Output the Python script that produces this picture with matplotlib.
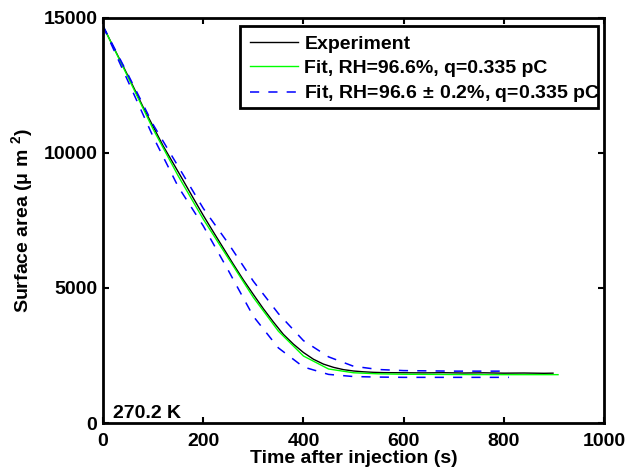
import matplotlib
matplotlib.use('Agg')
import matplotlib.pyplot as plt
from matplotlib.patches import Rectangle
import numpy as np

plt.rcParams['font.family'] = ['Liberation Sans', 'DejaVu Sans']
plt.rcParams['font.weight'] = 'bold'
plt.rcParams['mathtext.fontset'] = 'custom'
plt.rcParams['mathtext.rm'] = 'Liberation Sans:bold'
plt.rcParams['mathtext.bf'] = 'Liberation Sans:bold'
plt.rcParams['mathtext.it'] = 'Liberation Sans:bold'
plt.rcParams['mathtext.default'] = 'bf'

# experiment
t_exp = [0, 20, 40, 60, 80, 100, 120, 140, 160, 180, 200, 220, 240, 260, 280,
         300, 320, 340, 360, 380, 400, 420, 440, 460, 480, 500, 520, 540, 560,
         600, 640, 680, 720, 760, 800, 840, 880, 898]
a_exp = [14700, 13950, 13220, 12470, 11700, 10980, 10260, 9620, 8980, 8330,
         7690, 7080, 6480, 5880, 5300, 4760, 4230, 3740, 3280, 2920, 2610,
         2360, 2180, 2060, 1975, 1925, 1895, 1875, 1865, 1860, 1855, 1862,
         1850, 1858, 1845, 1850, 1840, 1845]

# best fit
t_fit = [0, 50, 100, 150, 200, 250, 300, 350, 400, 450, 500, 550, 600, 700, 800, 908]
a_fit = [14700, 12800, 10880, 9150, 7550, 6100, 4650, 3400, 2480, 2000, 1860,
         1820, 1805, 1795, 1790, 1790]

# fit with RH +/- 0.2 %
t_band = [0, 50, 100, 150, 200, 250, 300, 350, 400, 450, 500, 550, 600, 700, 810]
a_hi = [14700, 12900, 11050, 9500, 7950, 6650, 5250, 4050, 3050, 2450, 2100,
        1980, 1940, 1920, 1920]
a_lo = [14700, 12650, 10600, 8750, 7300, 5650, 3950, 2780, 2074, 1800, 1720,
        1700, 1690, 1690, 1690]

fs = 14

fig, ax = plt.subplots(figsize=(6.28, 4.70), dpi=100)
fig.subplots_adjust(left=0.164, right=0.962, bottom=0.1, top=0.962)

ax.plot(t_exp, a_exp, color='k', lw=1.0, label='Experiment')
ax.plot(t_fit, a_fit, color='#00ff00', lw=1.0, label='Fit, RH=96.6%, q=0.335 pC')
ax.plot(t_band, a_hi, color='#0000ff', lw=1.1, ls=(0, (6, 6)),
        label='Fit, RH=96.6$\\,\\pm\\,$0.2%, q=0.335 pC')
ax.plot(t_band, a_lo, color='#0000ff', lw=1.1, ls=(0, (6, 6)))

ax.set_xlim(0, 1000)
ax.set_ylim(0, 15000)
ax.set_xticks(np.arange(0, 1001, 200))
ax.set_yticks(np.arange(0, 15001, 5000))
ax.tick_params(direction='in', top=True, right=True, length=4, width=1.5,
               labelsize=fs)
ax.tick_params(axis='x', pad=7)
ax.tick_params(axis='y', pad=4)
for lab in ax.get_xticklabels() + ax.get_yticklabels():
    lab.set_fontweight('bold')
for s in ax.spines.values():
    s.set_linewidth(2)

ax.set_xlabel('Time after injection (s)', fontsize=fs, fontweight='bold', labelpad=0)
ax.set_ylabel('Surface area ($\\mu$ m $^{2}$)', fontsize=fs, fontweight='bold', labelpad=6)

ax.text(20, 200, '270.2 K', fontsize=fs, fontweight='bold')

# matlab style legend: text may run past the box
leg = ax.legend(loc='upper left', bbox_to_anchor=(0.293, 0.957), fontsize=fs,
                frameon=False, handlelength=2.5, borderpad=0, labelspacing=0.33,
                handletextpad=0.3, borderaxespad=0)
for txt in leg.get_texts():
    txt.set_fontweight('bold')
ax.add_patch(Rectangle((0.273, 0.777), 0.715, 0.203, transform=ax.transAxes,
                       fill=False, edgecolor='k', lw=2, zorder=4, clip_on=False))

plt.savefig('out.png', dpi=100)
